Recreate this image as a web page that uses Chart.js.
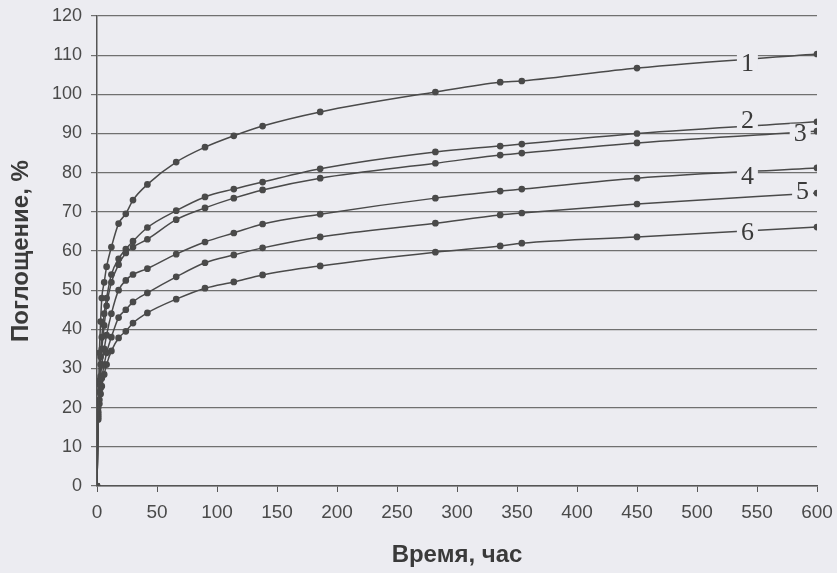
<!DOCTYPE html>
<html>
<head>
<meta charset="utf-8">
<script src="https://cdn.jsdelivr.net/npm/chart.js@4"></script>
<style>
  html, body { margin: 0; padding: 0; background: #ececf1; }
  #wrap { width: 837px; height: 573px; }
</style>
</head>
<body>
<div id="wrap"><canvas id="absorption-chart"></canvas></div>
<script>
// time, hours
var hours = [0, 1, 2, 3, 4, 6, 8, 12, 18, 24, 30, 42, 66, 90, 114, 138, 186, 282, 336, 354, 450, 600];

// absorption, % for each sample
var curve1 = [0, 20, 34, 42, 48, 52, 56, 61, 67, 69.5, 73, 77, 82.7, 86.5, 89.4, 91.9, 95.5, 100.6, 103.1, 103.4, 106.7, 110.3];
var curve2 = [0, 19, 27, 33, 38, 44, 48, 54, 58, 60.5, 62.5, 66, 70.3, 73.8, 75.8, 77.6, 81, 85.3, 86.8, 87.3, 90, 93];
var curve3 = [0, 18.5, 26, 31, 35, 41, 46, 52, 56.5, 59.5, 61, 63, 68, 71, 73.5, 75.6, 78.6, 82.4, 84.5, 85, 87.6, 90.6];
var curve4 = [0, 18, 24, 28, 31, 35, 38.5, 44, 50, 52.5, 54, 55.5, 59.2, 62.3, 64.6, 66.9, 69.4, 73.5, 75.3, 75.8, 78.6, 81.2];
var curve5 = [0, 17.5, 22, 25, 27.5, 31, 34, 38, 43, 45, 47, 49.3, 53.4, 57, 59, 60.8, 63.6, 67.1, 69.2, 69.7, 72, 74.8];
var curve6 = [0, 17, 21, 23.5, 25.5, 28.5, 31, 34.5, 37.8, 39.5, 41.6, 44.2, 47.7, 50.5, 52.1, 53.9, 56.2, 59.7, 61.3, 62, 63.6, 66.1];

var curveNames = ['1', '2', '3', '4', '5', '6'];
var curves = [curve1, curve2, curve3, curve4, curve5, curve6];

// where the curve numbers sit (data coords)
var labelSpots = [[542, 108], [542, 93.5], [586, 90.2], [542, 79.2], [588, 75.3], [542, 64.8]];

var lineColor = '#4a4a4a';

function toPoints(ys) {
    return hours.map(function (h, i) { return { x: h, y: ys[i] }; });
}

var curveLabels = {
    id: 'curveLabels',
    afterDatasetsDraw: function (chart) {
        var ctx = chart.ctx;
        var xs = chart.scales.x, ys = chart.scales.y;
        ctx.save();
        ctx.font = '26px "Liberation Serif"';
        ctx.textAlign = 'center';
        ctx.textBaseline = 'middle';
        curveNames.forEach(function (name, i) {
            var px = xs.getPixelForValue(labelSpots[i][0]);
            var py = ys.getPixelForValue(labelSpots[i][1]);
            var w = ctx.measureText(name).width + 8;
            ctx.fillStyle = '#ececf1';
            ctx.fillRect(px - w / 2, py - 9, w, 18);
            ctx.fillStyle = '#3a3a3a';
            ctx.fillText(name, px, py + 1);
        });
        ctx.restore();
    }
};

var ctxAbs = document.getElementById('absorption-chart').getContext('2d');
var absChart = new Chart(ctxAbs, {
    type: 'line',
    data: {
        datasets: curves.map(function (c, i) {
            return {
                label: curveNames[i],
                data: toPoints(c),
                borderColor: lineColor,
                backgroundColor: lineColor,
                borderWidth: 1.5,
                pointRadius: 2.6,
                pointStyle: 'circle',
                cubicInterpolationMode: 'monotone',
                fill: false
            };
        })
    },
    options: {
        responsive: true,
        maintainAspectRatio: false,
        animation: false,
        layout: { padding: { top: 16, right: 20, left: 0, bottom: 0 } },
        plugins: {
            legend: { display: false },
            tooltip: { enabled: false }
        },
        scales: {
            x: {
                type: 'linear',
                min: 0,
                max: 600,
                afterFit: function (scale) {
                    scale.height = 87;
                    scale.paddingRight = 0;
                    scale.paddingLeft = 0;
                },
                ticks: {
                    stepSize: 50,
                    color: '#4a4a4a',
                    padding: 9,
                    font: { family: '"Liberation Sans"', size: 19 }
                },
                grid: { drawOnChartArea: false, tickLength: 6, color: '#555' },
                border: { color: '#555', width: 1.5 },
                title: {
                    display: true,
                    text: 'Время, час',
                    color: '#3a3a3a',
                    padding: { top: 2, bottom: 3 },
                    font: { family: '"Liberation Sans"', size: 24, weight: 'bold' }
                }
            },
            y: {
                min: 0,
                max: 120,
                afterFit: function (scale) {
                    scale.width = 97;
                    scale.paddingTop = 0;
                    scale.paddingBottom = 0;
                },
                ticks: {
                    stepSize: 10,
                    color: '#4a4a4a',
                    padding: 9,
                    font: { family: '"Liberation Sans"', size: 18 }
                },
                grid: { color: '#707070', lineWidth: 1.2, tickLength: 6 },
                border: { color: '#555', width: 1.5 },
                title: {
                    display: true,
                    text: 'Поглощение, %',
                    color: '#3a3a3a',
                    padding: { top: 7, bottom: 0 },
                    font: { family: '"Liberation Sans"', size: 24, weight: 'bold' }
                }
            }
        }
    },
    plugins: [curveLabels]
});
</script>
</body>
</html>
